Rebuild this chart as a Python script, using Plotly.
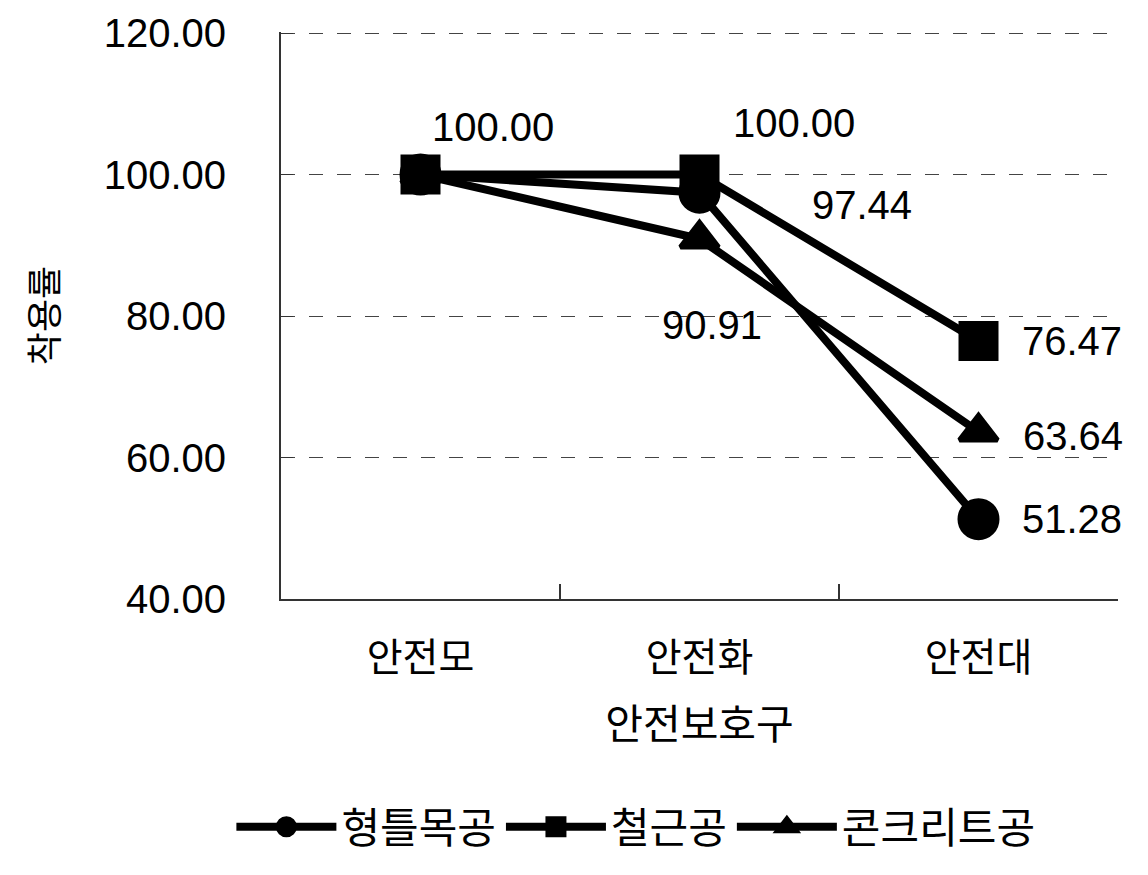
import plotly.graph_objects as go

categories = ["안전모", "안전화", "안전대"]
series_names = ["형틀목공", "철근공", "콘크리트공"]
formwork = [100.00, 97.44, 51.28]
rebar = [100.00, 100.00, 76.47]
concrete = [100.00, 90.91, 63.64]
y_ticks = [40, 60, 80, 100, 120]
y_tick_labels = ["40.00", "60.00", "80.00", "100.00", "120.00"]

num_font = "Liberation Sans, Arial, sans-serif"
kr_font = "Noto Sans CJK KR, sans-serif"

fig = go.Figure()
# drawing order: square, triangle, circle (circle on top); legend order kept via legendrank
styles = [
    (1, rebar, "square", 35, 2),
    (2, concrete, "triangle-up", 33, 3),
    (0, formwork, "circle", 37, 1),
]
for idx, vals, sym, sz, rank in styles:
    fig.add_trace(go.Scatter(
        x=categories, y=vals, name=series_names[idx], mode="lines+markers",
        line=dict(color="black", width=8),
        marker=dict(symbol=sym, size=sz, color="black", line=dict(color="black", width=5)),
        cliponaxis=False, legendrank=rank,
    ))

# data labels: (series values, category index, xshift, yshift)
label_specs = [
    (formwork, 0, 72, 48),
    (rebar, 1, 94, 52),
    (formwork, 1, 162, -12),
    (concrete, 1, 12, -86),
    (rebar, 2, 93, 0),
    (concrete, 2, 94, -4),
    (formwork, 2, 93, 0),
]
for vals, i, dx, dy in label_specs:
    fig.add_annotation(
        x=categories[i], y=vals[i], text=f"{vals[i]:.2f}",
        showarrow=False, xshift=dx, yshift=dy,
        font=dict(family=num_font, size=40, color="black"),
    )

fig.update_layout(
    width=1148, height=875,
    margin=dict(l=281, r=30, t=32, b=276),
    paper_bgcolor="white", plot_bgcolor="white",
    showlegend=True,
    legend=dict(
        orientation="h", x=0.424, xanchor="center", y=-0.462, yanchor="bottom",
        font=dict(family=kr_font, size=42, color="black"),
        itemwidth=100, itemsizing="trace", traceorder="normal",
        bgcolor="rgba(0,0,0,0)",
    ),
)
fig.update_xaxes(
    type="category", range=[-0.5, 2.5],
    showline=True, linecolor="#333", linewidth=2,
    ticks="inside", tickson="boundaries", ticklen=15, tickcolor="#333", tickwidth=1.5,
    showgrid=False, zeroline=False,
    tickfont=dict(family=kr_font, size=39, color="black"),
    ticklabelstandoff=23,
    title=dict(text="안전보호구", font=dict(family=kr_font, size=41, color="black"), standoff=30),
)
fig.update_yaxes(
    range=[40, 120.15], tickvals=y_ticks, ticktext=y_tick_labels,
    showline=True, linecolor="#333", linewidth=2,
    ticks="inside", ticklen=12, tickcolor="#333",
    showgrid=True, gridcolor="#444", gridwidth=1, griddash="14px,14px",
    zeroline=False,
    tickfont=dict(family=num_font, size=40, color="black"),
    ticklabelstandoff=45,
    title=dict(text="착용률", font=dict(family=kr_font, size=36, color="black"), standoff=34),
)

fig.write_html("out.html")
